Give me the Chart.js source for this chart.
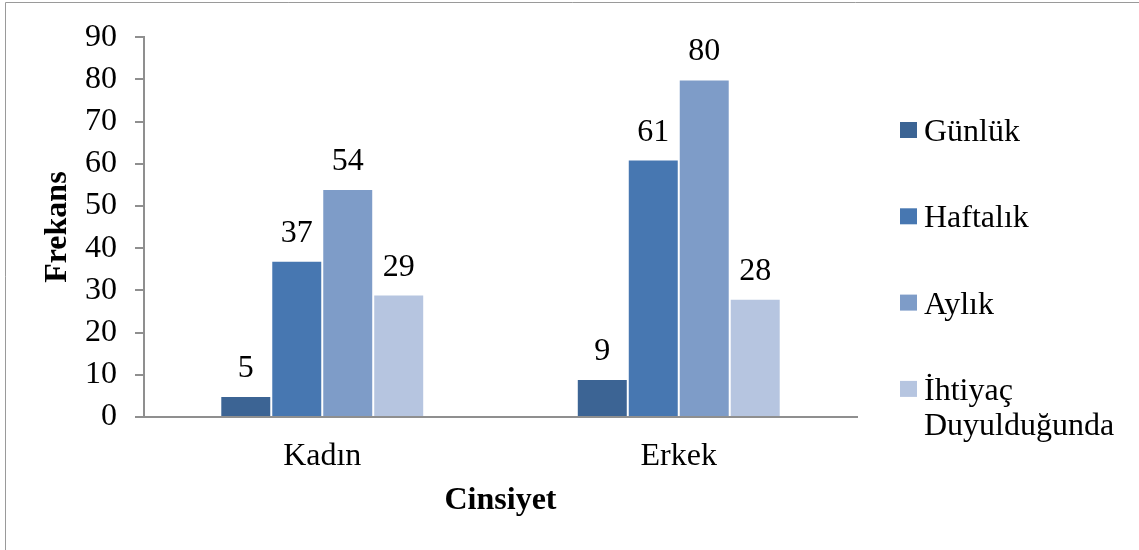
<!DOCTYPE html>
<html lang="tr">
<head>
<meta charset="utf-8">
<title>Cinsiyete göre frekans</title>
<script src="https://cdn.jsdelivr.net/npm/chart.js@4.4.1/dist/chart.umd.min.js"></script>
<style>
  html, body { margin: 0; padding: 0; background: #ffffff; }
  #wrap { position: relative; width: 1139px; height: 550px; }
</style>
</head>
<body>
<div id="wrap"><canvas id="chart" width="1139" height="550"></canvas></div>
<script>
// Categories, series and axis ticks
const categories = ['Kadın', 'Erkek'];
const seriesNames = ['Günlük', 'Haftalık', 'Aylık', 'İhtiyaç Duyulduğunda'];
const gunluk = [5, 9];
const haftalik = [37, 61];
const aylik = [54, 80];
const ihtiyac = [29, 28];
const yTicks = [0, 10, 20, 30, 40, 50, 60, 70, 80, 90];

const seriesColors = ['#3C6494', '#4777B1', '#7E9CC8', '#B6C5E0'];
const FONT = "'Times New Roman', 'Liberation Serif', serif";
const FS = 32;

// Page frame (left and top rule) and white background
const framePlugin = {
  id: 'frame',
  beforeDraw(chart) {
    const ctx = chart.ctx;
    ctx.save();
    ctx.fillStyle = '#ffffff';
    ctx.fillRect(0, 0, chart.width, chart.height);
    ctx.strokeStyle = '#9a9a9a';
    ctx.lineWidth = 1;
    ctx.beginPath();
    ctx.moveTo(5.5, chart.height);
    ctx.lineTo(5.5, 2.5);
    ctx.lineTo(chart.width, 2.5);
    ctx.stroke();
    ctx.restore();
  }
};

// Value labels above each bar
const valueLabels = {
  id: 'valueLabels',
  afterDatasetsDraw(chart) {
    const ctx = chart.ctx;
    ctx.save();
    ctx.font = FS + 'px ' + FONT;
    ctx.fillStyle = '#000000';
    ctx.textAlign = 'center';
    ctx.textBaseline = 'alphabetic';
    chart.data.datasets.forEach((ds, i) => {
      chart.getDatasetMeta(i).data.forEach((bar, j) => {
        ctx.fillText(String(ds.data[j]), bar.x, bar.y - 19);
      });
    });
    ctx.restore();
  }
};

// Legend stacked on the right, with wrapped long label
const sideLegend = {
  id: 'sideLegend',
  afterDraw(chart) {
    const ctx = chart.ctx;
    ctx.save();
    ctx.font = FS + 'px ' + FONT;
    ctx.fillStyle = '#000000';
    ctx.textAlign = 'left';
    ctx.textBaseline = 'alphabetic';
    const boxX = 900, textX = 924, firstY = 130, step = 86.3, lineGap = 35;
    chart.data.datasets.forEach((ds, i) => {
      const cy = firstY + i * step;
      ctx.fillStyle = ds.backgroundColor;
      ctx.fillRect(boxX, cy - 8, 17, 16);
      ctx.fillStyle = '#000000';
      const words = ds.label.split(' ');
      words.forEach((w, k) => {
        ctx.fillText(w, textX, cy + 11 + k * lineGap);
      });
    });
    ctx.restore();
  }
};

const datasets = [gunluk, haftalik, aylik, ihtiyac].map((vals, i) => ({
  label: seriesNames[i],
  data: vals,
  backgroundColor: seriesColors[i],
  borderColor: 'rgba(255,255,255,0.22)',
  borderWidth: 1,
  categoryPercentage: 0.572,
  barPercentage: 1.0
}));

new Chart(document.getElementById('chart'), {
  type: 'bar',
  data: { labels: categories, datasets },
  options: {
    responsive: false,
    animation: false,
    events: [],
    layout: { padding: { left: 0, right: 282, top: 33, bottom: 0 } },
    plugins: {
      legend: { display: false },
      tooltip: { enabled: false }
    },
    scales: {
      x: {
        afterFit(scale) { scale.height = 133; },
        grid: { display: false, drawTicks: false },
        border: { display: true, color: '#8f8f8f', width: 2 },
        ticks: {
          color: '#000000',
          font: { family: FONT, size: FS },
          padding: 20
        },
        title: {
          display: true,
          text: 'Cinsiyet',
          color: '#000000',
          font: { family: FONT, size: FS, weight: 'bold' },
          padding: { top: 0, bottom: 30 }
        }
      },
      y: {
        min: 0,
        max: 90,
        afterFit(scale) { scale.width = 144; },
        afterBuildTicks(scale) { scale.ticks = yTicks.map(v => ({ value: v })); },
        grid: {
          drawOnChartArea: false,
          drawTicks: true,
          tickLength: 9,
          color: '#8f8f8f',
          lineWidth: 2
        },
        border: { display: true, color: '#8f8f8f', width: 2 },
        ticks: {
          color: '#000000',
          font: { family: FONT, size: FS },
          padding: 18
        },
        title: {
          display: true,
          text: 'Frekans',
          color: '#000000',
          font: { family: FONT, size: FS, weight: 'bold' },
          padding: { top: 39, bottom: 0 }
        }
      }
    }
  },
  plugins: [framePlugin, valueLabels, sideLegend]
});
</script>
</body>
</html>
